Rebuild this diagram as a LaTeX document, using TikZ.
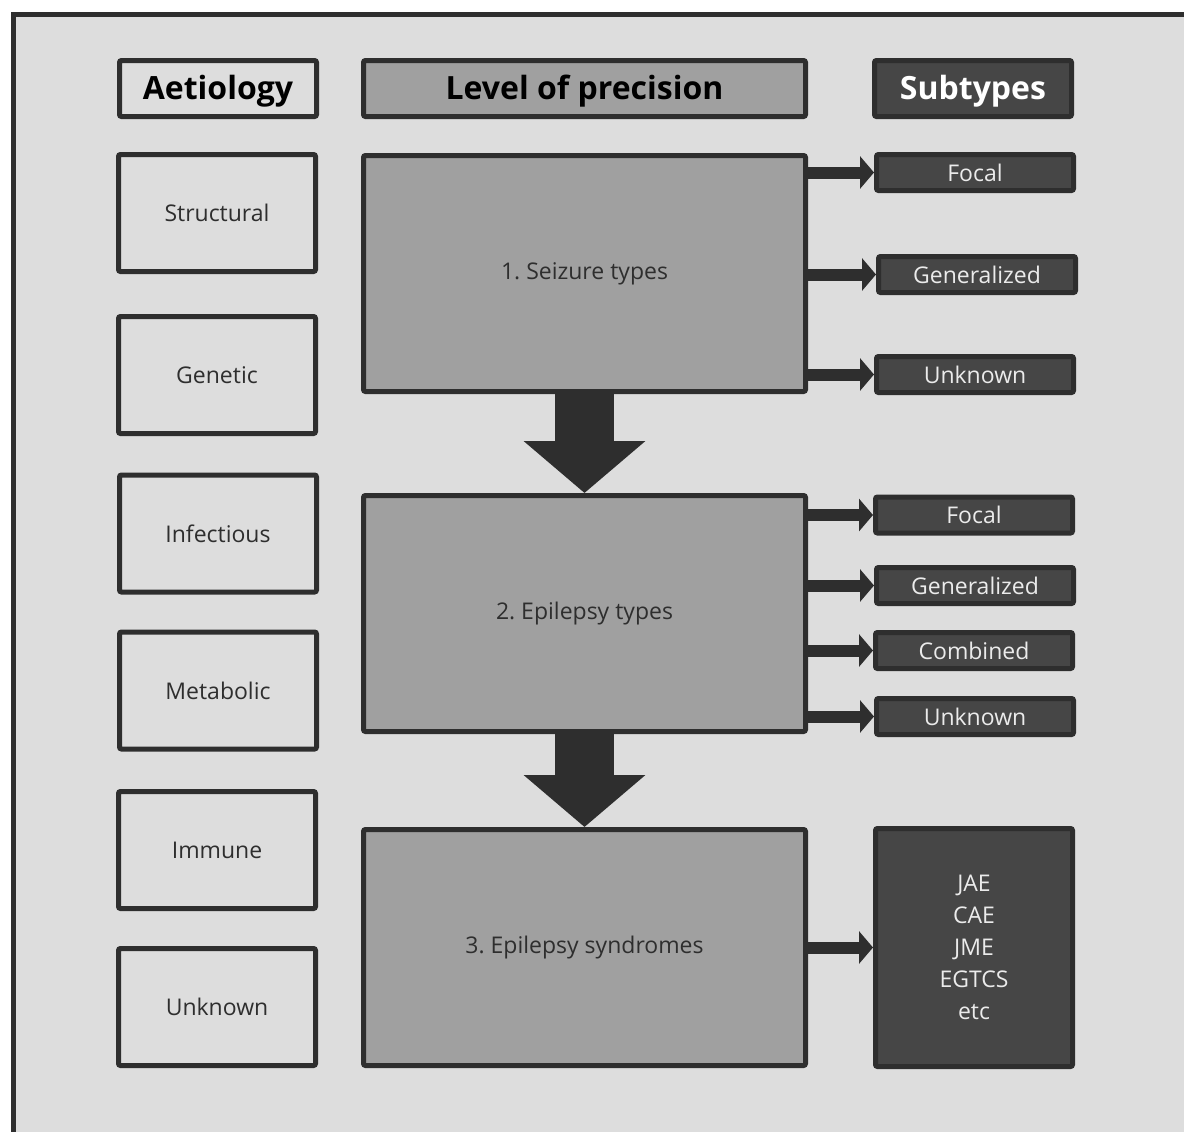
\documentclass[tikz,border=0pt]{standalone}
\usepackage{fontspec}
\setmainfont{Open Sans}
\usetikzlibrary{arrows.meta}
\definecolor{edge}{HTML}{2E2E2E}
\definecolor{paper}{HTML}{DDDDDD}
\definecolor{midgrey}{HTML}{A0A0A0}
\definecolor{darkbox}{HTML}{464646}
\frenchspacing

\begin{document}
\begin{tikzpicture}[x=0.5pt,y=-0.5pt,
  box/.style={draw=edge,line width=2.5pt,rounded corners=1pt,inner sep=0pt,text=edge,font=\fontsize{11.5}{14}\selectfont},
  cause/.style={box,fill=paper,minimum width=98.5pt,minimum height=58.5pt},
  level/.style={box,fill=midgrey,minimum width=221pt,minimum height=118pt},
  sub/.style={box,fill=darkbox,text=white!92!black,minimum width=98.5pt,minimum height=18pt},
  head/.style={font=\fontsize{16}{18}\selectfont\bfseries,minimum height=28pt,text depth=1pt},
  bigarrow/.style={edge,line width=29.5pt,-{Triangle[width=59.5pt,length=26pt]}},
  smallarrow/.style={edge,line width=6pt,-{Triangle[width=16pt,length=7pt]}}]
\useasboundingbox (0,0) rectangle (1184,1131);
\clip (0,0) rectangle (1184,1131);
\draw[edge,line width=2.5pt,fill=paper] (13,14) rectangle (1250,1200);

% column heads
\node[cause,head,text=black] (aet) at (218,88.5) {Aetiology};
\node[level,head,text=black] (lop) at (584.5,88.5) {Level of precision};
\node[sub,head,text=white] (subt) at (973,88.5) {Subtypes};

% aetiology
\node[cause] (struct) at (217,213) {Structural};
\node[cause] (genet) at (217,375) {Genetic};
\node[cause] (infect) at (218,533.5) {Infectious};
\node[cause] (metab) at (218,690.5) {Metabolic};
\node[cause] (immune) at (217,850) {Immune};
\node[cause] (unkn) at (217,1007) {Unknown};

% levels
\node[level] (seiz) at (584.5,273.5) {1. Seizure types};
\node[level] (epi) at (584.5,613.5) {2. Epilepsy types};
\node[level] (syn) at (584.5,947.5) {3. Epilepsy syndromes};

% subtypes
\node[sub] (focA) at (975,172.5) {Focal};
\node[sub] (genA) at (977,274.5) {Generalized};
\node[sub] (unkA) at (975,374.5) {Unknown};
\node[sub] (focB) at (974,515) {Focal};
\node[sub] (genB) at (975,585.5) {Generalized};
\node[sub] (combB) at (974,650.5) {Combined};
\node[sub] (unkB) at (975,716.5) {Unknown};
\node[sub,minimum height=119pt,align=center,font=\fontsize{11.5}{16}\selectfont] (synlist) at (974,947.5) {JAE\\CAE\\JME\\EGTCS\\etc};

\draw[bigarrow] (seiz.south) -- (epi.north);
\draw[bigarrow] (epi.south) -- (syn.north);
\draw[smallarrow] (seiz.east |- focA) -- (focA.west);
\draw[smallarrow] (seiz.east |- genA) -- (genA.west);
\draw[smallarrow] (seiz.east |- unkA) -- (unkA.west);
\draw[smallarrow] (epi.east |- focB) -- (focB.west);
\draw[smallarrow] (epi.east |- genB) -- (genB.west);
\draw[smallarrow] (epi.east |- combB) -- (combB.west);
\draw[smallarrow] (epi.east |- unkB) -- (unkB.west);
\draw[smallarrow] (syn.east |- synlist) -- (synlist.west);
\end{tikzpicture}
\end{document}
